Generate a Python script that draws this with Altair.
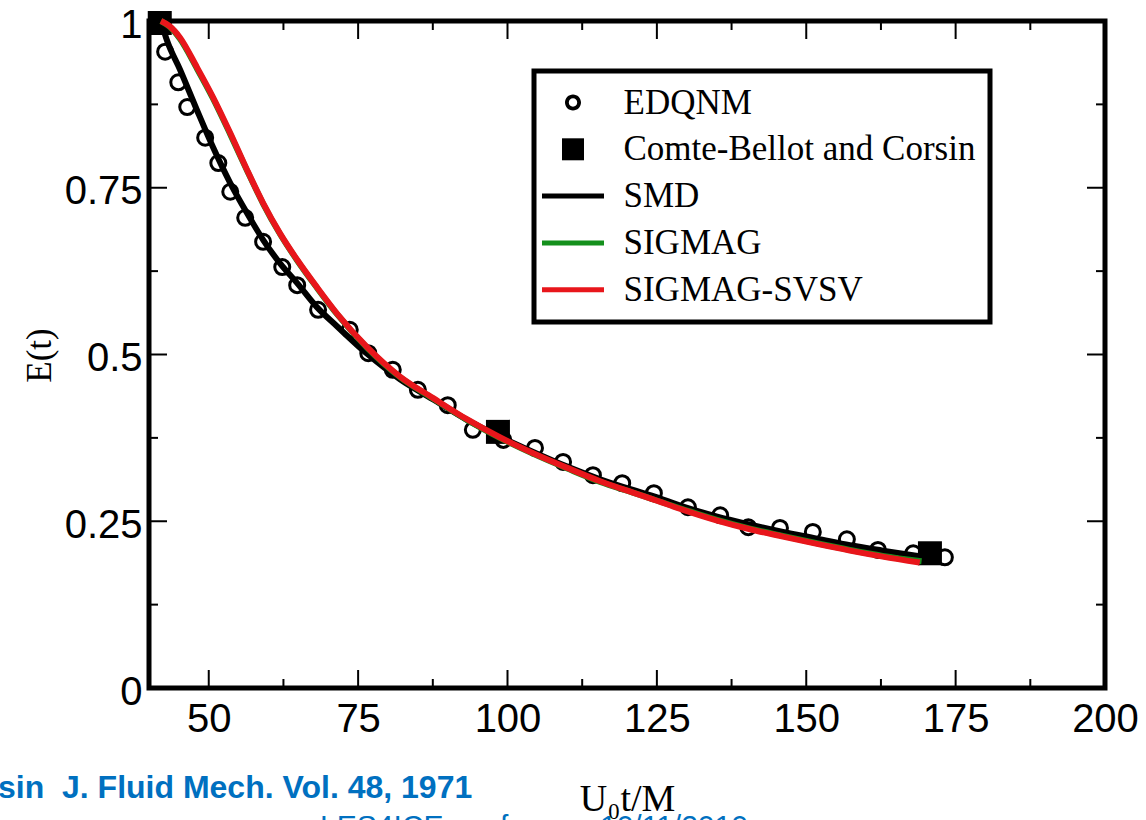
import altair as alt
import pandas as pd

series_names = ["EDQNM", "Comte-Bellot and Corsin", "SMD", "SIGMAG", "SIGMAG-SVSV"]
series_colors = ["black", "black", "black", "#14901c", "#e8161b"]

edqnm_x = [42.7, 44.9, 46.4, 49.4, 51.6, 53.6, 56.1, 59.1, 62.3, 64.8, 68.3, 73.6,
           76.7, 80.8, 85.0, 90.0, 94.2, 99.3, 104.6, 109.3, 114.3, 119.2, 124.5,
           130.2, 135.6, 140.3, 145.6, 151.1, 156.8, 162.0, 167.9, 173.2]
edqnm_y = [0.954, 0.908, 0.871, 0.825, 0.787, 0.744, 0.705, 0.669, 0.631, 0.604, 0.567, 0.537,
           0.502, 0.477, 0.447, 0.424, 0.387, 0.372, 0.360, 0.339, 0.319, 0.307, 0.292,
           0.271, 0.259, 0.241, 0.240, 0.234, 0.223, 0.207, 0.202, 0.196]
cbc_x = [41.8, 98.4, 170.7]
cbc_y = [0.997, 0.384, 0.202]
smd_x = [42.0, 43.0, 45.2, 48.0, 50.7, 53.6, 56.4, 59.1, 61.9, 64.8, 68.1, 71.5, 76.5,
         82.0, 87.5, 93.2, 98.7, 104.3, 110.0, 115.5, 121.0, 124.0, 129.4, 135.1, 140.6,
         146.1, 151.8, 157.3, 162.8, 169.5]
smd_y = [1.0, 0.971, 0.927, 0.867, 0.811, 0.757, 0.712, 0.672, 0.637, 0.607, 0.571, 0.542, 0.501,
         0.463, 0.433, 0.402, 0.377, 0.354, 0.332, 0.313, 0.297, 0.289, 0.272, 0.257, 0.245,
         0.234, 0.224, 0.214, 0.206, 0.197]
sigmag_x = [42.0, 43.5, 45.2, 48.0, 50.7, 53.6, 56.4, 59.1, 61.9, 64.8, 68.1, 71.5, 76.5,
            82.0, 87.5, 93.2, 98.7, 104.3, 110.0, 115.5, 121.0, 124.0, 129.4, 135.1, 140.6,
            146.1, 151.8, 157.3, 162.8, 169.3]
sigmag_y = [1.0, 0.991, 0.973, 0.929, 0.884, 0.830, 0.776, 0.726, 0.681, 0.641, 0.600, 0.560, 0.510,
            0.466, 0.434, 0.402, 0.375, 0.351, 0.329, 0.309, 0.293, 0.284, 0.268, 0.252, 0.239,
            0.228, 0.217, 0.207, 0.198, 0.190]
svsv_x = [42.0, 43.5, 45.2, 48.0, 50.7, 53.6, 56.4, 59.1, 61.9, 64.8, 68.1, 71.5, 76.5,
          82.0, 87.5, 93.2, 98.7, 104.3, 110.0, 115.5, 121.0, 124.0, 129.4, 135.1, 140.6,
          146.1, 151.8, 157.3, 162.8, 169.0]
svsv_y = [1.0, 0.992, 0.975, 0.931, 0.886, 0.832, 0.777, 0.727, 0.682, 0.642, 0.601, 0.561, 0.511,
          0.467, 0.435, 0.403, 0.376, 0.352, 0.330, 0.310, 0.293, 0.284, 0.267, 0.251, 0.238,
          0.227, 0.216, 0.206, 0.197, 0.188]

x_ticks = [50, 75, 100, 125, 150, 175, 200]
y_ticks = [0, 0.25, 0.5, 0.75, 1]
x_major = [50, 75, 100, 125, 150, 175]
x_minor = [62.5, 87.5, 112.5, 137.5, 162.5, 187.5]
y_major = [0.25, 0.5, 0.75]
y_minor = [0.125, 0.375, 0.625, 0.875]

x_title = "U₀t/M"
y_title = "E(t)"
note_left = ["sin\u00a0 J. Fluid Mech. Vol. 48, 1971"]
note_conf = ["LES4ICE conference"]
note_date = ["10/11/2010"]

W, H = 956, 667
xscale = alt.Scale(domain=[40, 200], nice=False, zero=False)
yscale = alt.Scale(domain=[0, 1], nice=False, zero=False)

# legend glyphs (unit box -1..1 maps to sqrt(symbolSize) = 20 px)
ring_path = ("M0.8,0A0.8,0.8,0,1,1,-0.8,0A0.8,0.8,0,1,1,0.8,0Z"
             "M0.42,0A0.42,0.42,0,1,0,-0.42,0A0.42,0.42,0,1,0,0.42,0Z")
square_path = "M-1.1,-1.1H1.1V1.1H-1.1Z"
line_path = "M-3.1,-0.25H3.1V0.25H-3.1Z"
legend_shapes = [ring_path, square_path, line_path, line_path, line_path]

legend = alt.Legend(
    title=None, orient="none", legendX=385, legendY=50, padding=14, rowPadding=10.8,
    labelOffset=33, symbolOffset=7.5, symbolSize=400, symbolStrokeWidth=0,
    symbolStrokeColor="transparent", symbolOpacity=1,
    labelFont="Liberation Serif", labelFontSize=35, labelColor="black", labelLimit=700,
    strokeColor="black", fillColor="white",
)

color_scale = alt.Scale(domain=series_names, range=series_colors)
color_enc = alt.Color("series:N", scale=color_scale, legend=legend)

xaxis = alt.Axis(values=x_ticks, title=x_title, labelFlush=False, labelOverlap=False,
                 labelBaseline="top", labelPadding=11, titleX=W / 2, titleY=122,
                 titleBaseline="alphabetic", titleFont="Liberation Serif", titleFontSize=38)
yaxis = alt.Axis(values=y_ticks, title=y_title, format=".2~f", labelFlush=False, labelOverlap=False,
                 labelPadding=7, labelOffset=4, titleX=-99, titleY=334, titleAngle=-90,
                 titleBaseline="alphabetic", titleFont="Liberation Serif", titleFontSize=35)


def df(xs, ys, name):
    return pd.DataFrame({"x": xs, "y": ys, "series": [name] * len(xs)})


legend_layer = alt.Chart(pd.DataFrame({"series": series_names})).mark_point(
    filled=True, size=400, opacity=1
).encode(
    color=color_enc,
    shape=alt.Shape("series:N", scale=alt.Scale(domain=series_names, range=legend_shapes), legend=legend),
).transform_filter("false")

edqnm = alt.Chart(df(edqnm_x, edqnm_y, series_names[0])).mark_point(
    shape="circle", filled=False, size=225, strokeWidth=3, opacity=1
).encode(x=alt.X("x:Q", scale=xscale, axis=xaxis), y=alt.Y("y:Q", scale=yscale, axis=yaxis), color=color_enc)

cbc = alt.Chart(df(cbc_x, cbc_y, series_names[1])).mark_square(size=576, opacity=1).encode(
    x=alt.X("x:Q", scale=xscale, axis=xaxis), y=alt.Y("y:Q", scale=yscale, axis=yaxis), color=color_enc)


def line_layer(xs, ys, name):
    return alt.Chart(df(xs, ys, name)).mark_line(strokeWidth=6, interpolate="monotone").encode(
        x=alt.X("x:Q", scale=xscale, axis=xaxis), y=alt.Y("y:Q", scale=yscale, axis=yaxis),
        color=color_enc, order=alt.Order("x:Q"))


smd = line_layer(smd_x, smd_y, series_names[2])
sigmag = line_layer(sigmag_x, sigmag_y, series_names[3])
svsv = line_layer(svsv_x, svsv_y, series_names[4])


def xtick_layer(vals, y0, y1):
    return alt.Chart(pd.DataFrame({"x": vals})).mark_rule(color="black", strokeWidth=2).encode(
        x=alt.X("x:Q", scale=xscale, axis=xaxis), y=alt.value(y0), y2=alt.value(y1))


def ytick_layer(vals, x0, x1):
    return alt.Chart(pd.DataFrame({"y": vals})).mark_rule(color="black", strokeWidth=2).encode(
        y=alt.Y("y:Q", scale=yscale, axis=yaxis), x=alt.value(x0), x2=alt.value(x1))


MAJ, MIN = 18, 9
ticks = [
    xtick_layer(x_major, H, H - MAJ), xtick_layer(x_minor, H, H - MIN),
    xtick_layer(x_major, 0, MAJ), xtick_layer(x_minor, 0, MIN),
    ytick_layer(y_major, 0, MAJ), ytick_layer(y_minor, 0, MIN),
    ytick_layer(y_major, W, W - MAJ), ytick_layer(y_minor, W, W - MIN),
]


def note_layer(texts, px, py, bold, size):
    return alt.Chart(pd.DataFrame({"t": texts})).mark_text(
        align="left", baseline="alphabetic", font="Liberation Sans",
        fontWeight="bold" if bold else "normal", fontSize=size, color="#0070c0"
    ).encode(text="t:N", x=alt.value(px), y=alt.value(py))


notes = [
    note_layer(note_left, -151, 777, True, 32),
    note_layer(note_conf, 171, 815, False, 30),
    note_layer(note_date, 451, 815, False, 30),
]

chart = alt.layer(legend_layer, *ticks, *notes, edqnm, cbc, smd, sigmag, svsv).properties(
    width=W, height=H,
    autosize=alt.AutoSizeParams(type="none"),
    padding={"left": 149, "top": 21, "right": 41, "bottom": 132},
    background="white",
).configure_view(
    stroke="black", strokeWidth=5
).configure_axis(
    domain=False, ticks=False, tickSize=0, grid=False,
    labelFont="Liberation Sans", labelFontSize=40, labelColor="black",
    titleColor="black", titleFontWeight="normal",
).configure_legend(
    strokeWidth=5
)

chart.save("out.html", embed_options={"renderer": "svg", "actions": False})
